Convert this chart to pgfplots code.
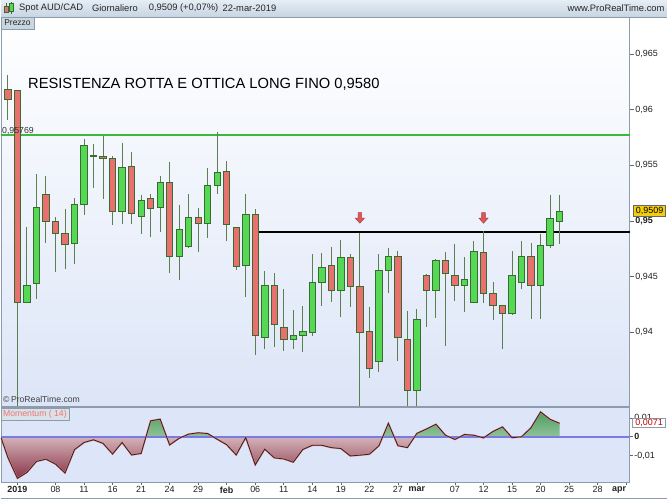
\documentclass[border=0pt]{standalone}
\usepackage{fontspec}
\setmainfont{Liberation Sans}
\usepackage{pgfplots}
\usepackage{pgfplotstable}
\pgfplotsset{compat=1.18}

\definecolor{cup}{HTML}{55D955}
\definecolor{cdn}{HTML}{E8716F}
\definecolor{cborder}{HTML}{3A6B30}
\definecolor{cwick}{HTML}{5A8050}
\definecolor{bgbot}{HTML}{DCE5F7}
\definecolor{mombg}{HTML}{DDE5F8}
\definecolor{framecol}{HTML}{8C9CAC}
\definecolor{hdtop}{HTML}{E6EDF4}
\definecolor{hdbot}{HTML}{C6D5E3}
\definecolor{resgreen}{HTML}{3CB83C}
\definecolor{zeroline}{HTML}{7A7AE6}
\definecolor{mgreen}{HTML}{4E9E5E}
\definecolor{mred}{HTML}{8A3446}
\definecolor{msalmon}{HTML}{F08080}
\definecolor{arrowred}{HTML}{E05858}
\definecolor{gold}{HTML}{F2CF0A}
\definecolor{labcol}{HTML}{202020}
\definecolor{tabcol}{HTML}{C9D6E0}

% OHLC, one row per trading day (n=0 is 31 Dec 2018)
\pgfplotstableread{
n o h l c
0 0.9618 0.9631 0.9591 0.9609
1 0.9617 0.9618 0.9334 0.9427
2 0.9427 0.9495 0.9427 0.9442
3 0.9444 0.9542 0.9430 0.9512
4 0.9524 0.9540 0.9480 0.9500
5 0.9500 0.9504 0.9454 0.9489
6 0.9489 0.9511 0.9457 0.9479
7 0.9480 0.9521 0.9461 0.9515
8 0.9515 0.9574 0.9505 0.9568
9 0.9559 0.9569 0.9530 0.9558
10 0.9558 0.9576 0.9520 0.9556
11 0.9556 0.9558 0.9496 0.9509
12 0.9509 0.9570 0.9497 0.9548
13 0.9549 0.9562 0.9497 0.9507
14 0.9504 0.9523 0.9488 0.9518
15 0.9520 0.9524 0.9486 0.9511
16 0.9512 0.9540 0.9490 0.9535
17 0.9535 0.9553 0.9453 0.9468
18 0.9468 0.9514 0.9447 0.9492
19 0.9477 0.9524 0.9476 0.9503
20 0.9503 0.9512 0.9472 0.9498
21 0.9498 0.9548 0.9485 0.9532
22 0.9532 0.9580 0.9524 0.9544
23 0.9545 0.9554 0.9482 0.9497
24 0.9494 0.9495 0.9456 0.9459
25 0.9460 0.9524 0.9432 0.9506
26 0.9506 0.9511 0.9380 0.9397
27 0.9395 0.9455 0.9385 0.9442
28 0.9442 0.9453 0.9387 0.9407
29 0.9404 0.9439 0.9383 0.9394
30 0.9394 0.9420 0.9385 0.9397
31 0.9397 0.9424 0.9382 0.9401
32 0.9400 0.9470 0.9397 0.9445
33 0.9445 0.9471 0.9424 0.9458
34 0.9460 0.9477 0.9427 0.9438
35 0.9438 0.9483 0.9414 0.9467
36 0.9467 0.9470 0.9423 0.9441
37 0.9441 0.9489 0.9334 0.9400
38 0.9401 0.9423 0.9359 0.9368
39 0.9374 0.9470 0.9364 0.9456
40 0.9456 0.9476 0.9435 0.9468
41 0.9468 0.9473 0.9374 0.9395
42 0.9394 0.9419 0.9334 0.9348
43 0.9348 0.9421 0.9334 0.9412
44 0.9451 0.9452 0.9405 0.9438
45 0.9438 0.9466 0.9413 0.9465
46 0.9465 0.9472 0.9388 0.9453
47 0.9451 0.9479 0.9428 0.9442
48 0.9442 0.9468 0.9418 0.9448
49 0.9427 0.9482 0.9426 0.9473
50 0.9472 0.9491 0.9426 0.9435
51 0.9435 0.9445 0.9411 0.9424
52 0.9424 0.9425 0.9385 0.9417
53 0.9417 0.9473 0.9416 0.9451
54 0.9445 0.9482 0.9439 0.9468
55 0.9468 0.9480 0.9412 0.9442
56 0.9442 0.9488 0.9412 0.9478
57 0.9478 0.9523 0.9476 0.9502
58 0.9500 0.9523 0.9479 0.9509
}\candles
% helper columns: wick centre / half range, body centre, body size
\pgfplotstablecreatecol[create col/expr={(\thisrow{h}+\thisrow{l})/2}]{wm}\candles
\pgfplotstablecreatecol[create col/expr={(\thisrow{h}-\thisrow{l})/2}]{we}\candles
\pgfplotstablecreatecol[create col/expr={(\thisrow{o}+\thisrow{c})/2}]{bm}\candles
\pgfplotstablecreatecol[create col/expr={\thisrow{c}-\thisrow{o}}]{d}\candles

% Momentum(14)
\pgfplotstableread{
n m
-0.73 -0.0004
0 -0.0110
1 -0.0219
2 -0.0188
3 -0.0130
4 -0.0118
5 -0.0144
6 -0.0191
7 -0.0068
8 -0.0030
9 -0.0016
10 -0.0035
11 -0.0091
12 -0.0030
13 -0.0096
14 -0.0088
15 0.0084
16 0.0093
17 -0.0043
18 -0.0008
19 0.0014
20 0.0021
21 0.0017
22 -0.0013
23 -0.0042
24 -0.0096
25 -0.0004
26 -0.0148
27 -0.0065
28 -0.0111
29 -0.0117
30 -0.0134
31 -0.0067
32 -0.0045
33 -0.0045
34 -0.0057
35 -0.0062
36 -0.0101
37 -0.0097
38 -0.0092
39 -0.0048
40 0.0071
41 -0.0047
42 -0.0057
43 0.0018
44 0.0041
45 0.0066
46 0.0008
47 -0.0014
48 0.0012
49 0.0008
50 -0.0006
51 0.0028
52 0.0052
53 -0.0005
54 0.0000
55 0.0048
56 0.0131
57 0.0092
58 0.0071
}\mom

% body height from the point meta (c-o), mapped by pgfplots onto [0,1000]
% with point meta min=-0.02, max=0.02: 1 unit = 0.00004 price = 0.4464 bp
\pgfdeclareplotmark{candle}{%
  \pgfmathsetmacro\tt{\pgfplotspointmetatransformed-500}%
  \pgfmathsetmacro\bh{max(abs(\tt)*0.4464,0.9)}%
  \pgfmathsetmacro\bhh{\bh/2}%
  \ifdim\tt pt>0pt \pgfsetfillcolor{cup}\else\pgfsetfillcolor{cdn}\fi
  \pgfsetstrokecolor{cborder}%
  \pgfsetlinewidth{0.8bp}%
  \pgfpathrectangle{\pgfpoint{-3.2bp}{-\bhh bp}}{\pgfpoint{6.4bp}{\bh bp}}%
  \pgfusepath{fill,stroke}%
}
\pgfdeclareplotmark{darrow}{%
  \pgfpathmoveto{\pgfpoint{-1.8bp}{5.5bp}}%
  \pgfpathlineto{\pgfpoint{1.8bp}{5.5bp}}%
  \pgfpathlineto{\pgfpoint{1.8bp}{0bp}}%
  \pgfpathlineto{\pgfpoint{4.5bp}{0bp}}%
  \pgfpathlineto{\pgfpoint{0bp}{-5bp}}%
  \pgfpathlineto{\pgfpoint{-4.5bp}{0bp}}%
  \pgfpathlineto{\pgfpoint{-1.8bp}{0bp}}%
  \pgfpathclose
  \pgfusepath{fill,stroke}%
}

\newcommand\tkfont{\fontsize{9}{10}\selectfont}

\begin{document}
\begin{tikzpicture}
\fill[white] (0,0) rectangle (667bp,500bp);

% ---------- price panel ----------
\begin{axis}[
  at={(0bp,93bp)}, anchor=south west,
  scale only axis, width=630bp, height=390bp,
  xmin=-0.73, xmax=65.37, ymin=0.933369, ymax=0.968315,
  clip=false,
  axis background/.style={top color=white, bottom color=bgbot},
  axis line style={draw=framecol, line width=0.8bp},
  xtick=\empty,
  ytick={0.94,0.945,0.95,0.955,0.96,0.965},
  yticklabels={{0,94},{0,945},{\textbf{0,95}},{0,955},{0,96},{0,965}},
  scaled y ticks=false,
  ytick pos=right, yticklabel pos=right,
  tick align=outside, major tick length=4bp,
  tick style={draw=black!60, line width=0.6bp},
  yticklabel style={font=\tkfont, text=labcol, inner sep=1.5bp},
  /pgf/number format/assume math mode=true,
]
% resistance line
\addplot[resgreen, line width=2bp] coordinates {(-0.73,0.95769) (65.37,0.95769)};
% broken level
\addplot[black, line width=1.4bp] coordinates {(26,0.9490) (65.37,0.9490)};
% wicks
\addplot[draw=none, mark=none,
  error bars/.cd, y dir=both, y explicit, error mark=none,
  error bar style={draw=cwick, line width=1bp}]
  table[x=n, y=wm, y error=we] {\candles};
% bodies
\addplot[scatter, only marks, mark=candle,
  point meta=explicit, point meta min=-0.02, point meta max=0.02,
  scatter/@pre marker code/.code={}, scatter/@post marker code/.code={}]
  table[x=n, y=bm, meta=d] {\candles};
% signal arrows
\addplot[only marks, mark=darrow,
  mark options={fill=arrowred, draw=arrowred!75!black, line width=0.6bp}]
  coordinates {(37,0.95025) (50,0.95025)};
\end{axis}

% ---------- momentum panel ----------
\begin{axis}[
  at={(0bp,17bp)}, anchor=south west,
  scale only axis, width=630bp, height=75bp,
  xmin=-0.73, xmax=65.37, ymin=-0.02384, ymax=0.01563,
  axis background/.style={fill=mombg},
  axis line style={draw=framecol, line width=0.8bp},
  xtick={1,5,8,11,14,17,20,23,26,29,32,35,38,41,43,47,50,53,56,59,62,65},
  xticklabels={\textbf{2019},08,11,16,21,24,29,\textbf{feb},06,11,14,19,22,27,\textbf{mar},07,12,15,20,25,28,{\makebox[0pt][r]{\textbf{apr}}}},
  xtick pos=left,
  ytick={-0.01,0,0.01},
  yticklabels={{-0,01},{\textbf{0}},{0,01}},
  scaled y ticks=false,
  ytick pos=right, yticklabel pos=right,
  tick align=outside, major tick length=3bp,
  tick style={draw=black!60, line width=0.6bp},
  ticklabel style={font=\tkfont, text=labcol, inner sep=1.5bp},
  /pgf/number format/assume math mode=true,
]
\begin{scope}
\clip (axis cs:-0.73,0) rectangle (axis cs:65.37,0.01563);
\addplot[draw=none, top color=mgreen, bottom color=white] table[x=n,y=m] {\mom} \closedcycle;
\end{scope}
\begin{scope}
\clip (axis cs:-0.73,-0.02384) rectangle (axis cs:65.37,0);
\addplot[draw=none, top color=white, bottom color=mred] table[x=n,y=m] {\mom} \closedcycle;
\end{scope}
\addplot[zeroline, line width=1.6bp] coordinates {(-0.73,0) (65.37,0)};
\addplot[msalmon, line width=1.6bp] table[x=n,y=m] {\mom};
\addplot[black!85, line width=0.8bp] table[x=n,y=m] {\mom};
\end{axis}

% ---------- header and labels ----------
\shade[top color=hdtop, bottom color=hdbot] (0,483bp) rectangle (667bp,500bp);
\draw[framecol, line width=0.8bp] (0,483bp) -- (667bp,483bp);
\draw[cborder, line width=0.5bp] (5bp,487bp) -- (5bp,497bp) (10bp,486bp) -- (10bp,498bp);
\filldraw[fill=cdn, draw=cborder, line width=0.5bp] (3bp,488bp) rectangle (7bp,494bp);
\filldraw[fill=cup, draw=cborder, line width=0.5bp] (8bp,489bp) rectangle (12bp,497bp);
\begin{scope}[every node/.style={inner sep=0, font=\fontsize{9.4}{11}\selectfont, text=black!85}]
\node[anchor=west] at (18bp,491.5bp) {Spot AUD/CAD};
\node[anchor=west] at (91bp,491.5bp) {Giornaliero};
\node[anchor=west] at (148bp,491.5bp) {0,9509 (+0,07\%)};
\node[anchor=west] at (222bp,491.5bp) {22-mar-2019};
\node[anchor=east] at (665bp,491.5bp) {www.ProRealTime.com};
\end{scope}

\filldraw[fill=tabcol, draw=framecol, line width=0.5bp] (0,471bp) rectangle (33bp,483bp);
\node[inner sep=0, font=\fontsize{8.5}{10}\selectfont, text=black!85] at (16.5bp,477bp) {Prezzo};

\node[anchor=base west, inner sep=0, font=\fontsize{14.8}{17}\selectfont]
  at (27bp,411.5bp) {RESISTENZA ROTTA E OTTICA LONG FINO 0,9580};
\node[anchor=base west, inner sep=0, font=\fontsize{8.8}{10}\selectfont, text=black!80]
  at (1bp,366bp) {0,95769};
\node[anchor=base west, inner sep=0, font=\fontsize{8.7}{10}\selectfont, text=black!75]
  at (2bp,96.5bp) {\textcopyright\,ProRealTime.com};

\filldraw[fill=gold, draw=black!60, line width=0.5bp] (634bp,283.3bp) rectangle (666bp,294.3bp);
\node[inner sep=0, font=\tkfont] at (650bp,288.8bp) {0,9509};

\filldraw[fill=tabcol!70!white, draw=framecol, line width=0.5bp] (0,79bp) rectangle (68bp,91bp);
\node[inner sep=0, font=\fontsize{8.7}{10}\selectfont, text=msalmon!90!red] at (34bp,85bp) {Momentum ( 14)};

\filldraw[fill=white, draw=framecol, line width=0.5bp] (633bp,72bp) rectangle (666bp,81bp);
\node[inner sep=0, font=\tkfont, text=red!75!black] at (649.5bp,76.5bp) {0,0071};

\draw[framecol, line width=0.8bp] (0,0.5bp) -- (667bp,0.5bp);
\end{tikzpicture}
\end{document}
